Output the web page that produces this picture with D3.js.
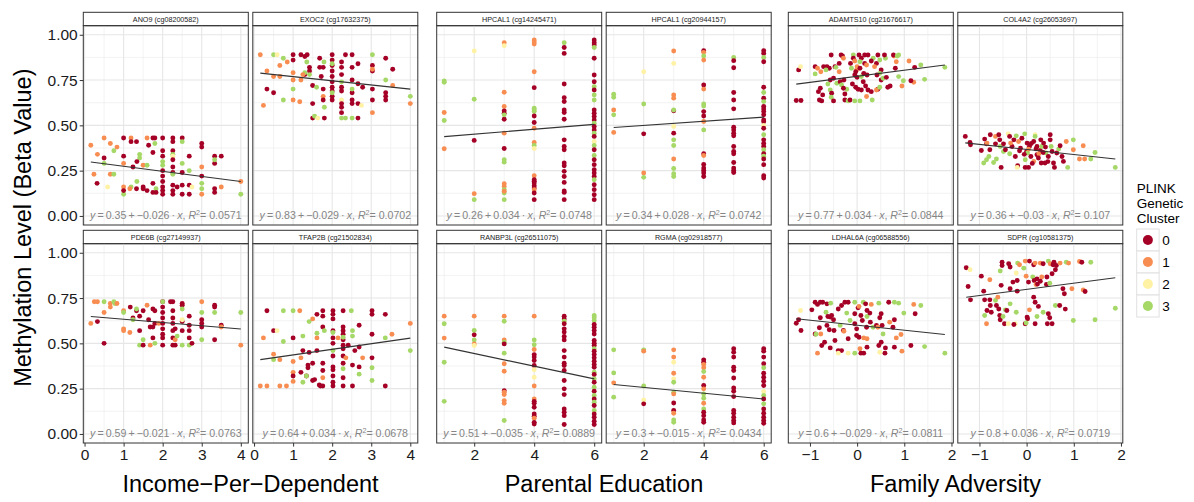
<!DOCTYPE html>
<html>
<head>
<meta charset="utf-8">
<script src="https://cdn.jsdelivr.net/npm/d3@7"></script>
<style>
  body { margin: 0; background: #fff; }
  text { font-family: "Liberation Sans", Arial, sans-serif; }
</style>
</head>
<body>
<div id="chart"></div>
<script>
// datos: cada punto [x, beta, cluster]
const ano9 = [[0.16,0.39,1],[0.24,0.23,1],[0.32,0.18,0],[0.33,0.34,1],[0.5,0.43,1],[0.5,0.32,0],[0.5,0.29,3],[0.59,0.16,2],[0.66,0.40,1],[0.66,0.23,1],[0.75,0.23,3],[0.75,0.36,3],[0.83,0.38,1],
  [1,0.43,0],[1,0.33,0],[1,0.29,1],[1,0.16,1],[1,0.12,3],[1,0.14,0],[1.19,0.43,1],[1.19,0.41,0],[1.33,0.41,0],[1.24,0.27,0],[1.19,0.16,3],[1.16,0.15,1],[1.33,0.15,0],[1.41,0.34,3],[1.41,0.32,3],[1.5,0.28,1],[1.5,0.16,0],[1.5,0.15,0],[1.34,0.30,0],[1.34,0.19,3],
  [1.6,0.43,1],[1.64,0.39,0],[1.75,0.43,0],[1.75,0.35,0],[1.75,0.18,0],[1.75,0.13,0],[1.6,0.14,0],[1.6,0.28,3],[1.8,0.40,3],[1.8,0.43,0],[1.83,0.15,3],[1.83,0.13,0],
  [2,0.43,0],[2,0.36,0],[2,0.33,0],[2,0.30,3],[2,0.28,3],[2,0.25,0],[2,0.22,0],[2,0.19,0],[2,0.16,0],[2,0.14,0],[2,0.12,0],
  [2.26,0.43,0],[2.26,0.41,0],[2.26,0.36,0],[2.26,0.34,3],[2.26,0.33,2],[2.26,0.31,0],[2.26,0.27,0],[2.26,0.24,0],[2.26,0.23,3],[2.26,0.17,0],[2.26,0.14,0],[2.26,0.12,0],
  [2.5,0.43,0],[2.5,0.41,3],[2.5,0.29,3],[2.5,0.24,0],[2.5,0.17,0],[2.5,0.12,0],[2.37,0.16,0],[2.68,0.33,0],[2.68,0.25,3],[2.68,0.17,0],[2.75,0.16,2],[2.68,0.12,0],
  [3,0.40,0],[3,0.38,0],[3,0.27,1],[3,0.22,0],[3,0.18,3],[3,0.15,3],[3,0.12,1],[3.33,0.33,0],[3.33,0.29,0],[3.33,0.31,3],[3.33,0.15,0],[3.33,0.13,0],[3.5,0.33,0],[3.5,0.16,1],[4,0.19,1],[4,0.12,3]]

const exoc2 = [[0.16,0.89,1],[0.24,0.61,1],[0.33,0.80,1],[0.33,0.70,0],[0.5,0.77,1],[0.5,0.89,3],[0.59,0.89,2],[0.5,0.68,0],[0.66,0.83,1],[0.66,0.77,1],[0.75,0.87,3],[0.75,0.64,3],[0.85,0.85,1],
  [1,0.89,0],[1,0.86,0],[1,0.79,1],[1,0.75,1],[1,0.70,3],[1,0.64,1],[1.17,0.63,1],[1.2,0.75,1],[1.2,0.89,0],[1.3,0.88,0],[1.36,0.89,0],[1.35,0.85,3],[1.3,0.78,0],[1.3,0.79,3],[1.25,0.78,1],[1.42,0.82,0],[1.42,0.80,0],[1.42,0.78,3],
  [1.5,0.72,0],[1.5,0.62,0],[1.5,0.54,0],[1.55,0.55,3],[1.63,0.54,2],[1.68,0.87,0],[1.68,0.82,0],[1.6,0.71,3],[1.72,0.77,0],[1.77,0.82,0],[1.79,0.85,3],[1.77,0.70,0],[1.77,0.66,1],[1.77,0.64,0],[1.8,0.60,3],[1.8,0.54,0],
  [2,0.89,0],[2,0.86,0],[2,0.83,0],[2,0.84,3],[2,0.80,0],[2,0.77,0],[2,0.74,0],[2,0.71,0],[2,0.69,0],[2,0.66,0],[2,0.64,0],[2,0.68,3],
  [2.24,0.85,0],[2.24,0.82,0],[2.24,0.78,0],[2.24,0.74,3],[2.24,0.71,0],[2.24,0.69,0],[2.24,0.64,2],[2.24,0.62,0],[2.24,0.60,0],[2.24,0.57,0],[2.24,0.54,3],[2.34,0.54,3],[2.34,0.89,0],
  [2.51,0.89,0],[2.51,0.82,0],[2.51,0.75,0],[2.51,0.68,0],[2.51,0.70,3],[2.51,0.62,0],[2.51,0.64,0],[2.51,0.54,3],[2.66,0.84,0],[2.66,0.73,0],[2.66,0.62,0],[2.66,0.54,0],[2.75,0.61,2],[2.78,0.71,0],
  [3.03,0.89,3],[3.03,0.83,0],[3.03,0.80,0],[3.03,0.70,0],[3.03,0.64,0],[3.03,0.57,1],[3.03,0.81,1],[3.37,0.87,0],[3.37,0.68,0],[3.37,0.66,0],[3.37,0.64,0],[3.37,0.75,3],[3.55,0.81,0],[3.55,0.72,1],[4,0.66,3],[4,0.62,1]]

const pde6b = [[0.16,0.61,1],[0.25,0.73,1],[0.33,0.73,1],[0.33,0.62,0],[0.5,0.50,0],[0.5,0.73,3],[0.5,0.67,1],[0.66,0.72,1],[0.66,0.70,1],[0.75,0.73,3],[0.78,0.72,3],[0.83,0.72,1],
  [1,0.68,1],[1,0.57,1],[1,0.58,1],[1,0.67,3],[1.16,0.56,1],[1.17,0.70,0],[1.24,0.64,0],[1.24,0.63,3],[1.33,0.68,0],[1.33,0.69,3],[1.41,0.65,0],[1.41,0.57,0],[1.41,0.49,3],[1.5,0.49,0],[1.5,0.52,3],[1.5,0.68,0],
  [1.6,0.71,1],[1.64,0.63,0],[1.68,0.59,0],[1.75,0.69,0],[1.75,0.59,0],[1.75,0.53,0],[1.68,0.49,1],[1.8,0.50,3],[1.8,0.68,0],[1.8,0.61,0],[1.9,0.61,1],
  [2,0.73,0],[2,0.73,3],[2,0.70,0],[2,0.67,0],[2,0.64,0],[2,0.61,0],[2,0.58,0],[2,0.55,0],[2,0.53,0],[2,0.49,0],
  [2.2,0.73,0],[2.26,0.73,0],[2.26,0.68,0],[2.26,0.64,0],[2.26,0.61,0],[2.26,0.57,0],[2.26,0.53,0],[2.26,0.49,0],[2.32,0.49,0],[2.32,0.58,0],[2.32,0.52,1],[2.37,0.54,3],
  [2.5,0.72,0],[2.5,0.71,0],[2.5,0.69,3],[2.5,0.62,0],[2.5,0.63,2],[2.5,0.57,0],[2.5,0.49,3],[2.68,0.65,0],[2.68,0.60,0],[2.68,0.57,0],[2.68,0.53,0],[2.68,0.49,3],[2.75,0.50,0],
  [3,0.63,0],[3,0.61,0],[3,0.59,0],[3,0.73,1],[3,0.67,3],[3,0.52,3],[3.33,0.71,0],[3.33,0.70,0],[3.33,0.67,3],[3.33,0.52,0],[3.5,0.60,0],[3.5,0.59,1],[4,0.67,3],[4,0.49,1]]

const tfap2b = [[0.16,0.265,1],[0.24,0.53,1],[0.33,0.265,1],[0.33,0.68,0],[0.5,0.44,1],[0.5,0.57,0],[0.59,0.57,2],[0.5,0.41,3],[0.66,0.265,1],[0.66,0.41,1],[0.75,0.68,3],[0.75,0.51,3],[0.83,0.265,1],
  [1,0.68,3],[1,0.53,0],[1,0.40,1],[1,0.34,1],[1,0.32,0],[1,0.29,1],[1.17,0.68,1],[1.2,0.42,1],[1.2,0.34,0],[1.25,0.54,3],[1.25,0.46,0],[1.25,0.285,3],[1.34,0.32,0],[1.34,0.32,3],[1.38,0.38,0],[1.38,0.365,0],
  [1.41,0.62,3],[1.41,0.45,0],[1.5,0.635,1],[1.5,0.39,0],[1.5,0.295,0],[1.55,0.30,0],[1.61,0.66,0],[1.61,0.46,0],[1.61,0.53,1],[1.61,0.556,3],[1.67,0.27,0],[1.7,0.265,0],
  [1.76,0.68,0],[1.76,0.65,0],[1.76,0.59,0],[1.76,0.39,0],[1.76,0.35,0],[1.76,0.31,1],[1.8,0.57,3],[1.76,0.265,0],
  [2.02,0.68,0],[2.02,0.66,0],[2.02,0.635,0],[2.02,0.57,0],[2.02,0.53,0],[2.02,0.50,0],[2.02,0.43,0],[2.02,0.37,0],[2.02,0.354,0],[2.02,0.32,0],[2.02,0.285,0],[2.02,0.265,0],[2.02,0.46,3],[2.02,0.56,3],[2.15,0.53,1],
  [2.28,0.68,0],[2.28,0.59,0],[2.28,0.57,0],[2.28,0.55,0],[2.28,0.52,0],[2.28,0.49,0],[2.28,0.47,0],[2.28,0.43,0],[2.28,0.39,0],[2.28,0.36,3],[2.28,0.31,0],[2.28,0.265,0],[2.28,0.534,3],[2.35,0.42,1],[2.41,0.49,0],[2.58,0.46,0],
  [2.49,0.68,3],[2.52,0.57,3],[2.52,0.54,3],[2.52,0.38,0],[2.52,0.265,0],[2.69,0.60,0],[2.69,0.48,0],[2.69,0.33,3],[2.69,0.37,0],[2.78,0.42,1],
  [3.02,0.68,0],[3.02,0.66,0],[3.02,0.55,0],[3.02,0.42,0],[3.02,0.365,3],[3.02,0.295,3],[3.36,0.66,0],[3.36,0.53,3],[3.36,0.265,0],[3.53,0.55,1],[4,0.61,1],[4,0.46,3]]

const hpcal1a = [[1,0.745,3],[1,0.738,3],[1,0.571,1],[1,0.527,3],[1,0.371,1],
  [2,0.91,2],[2,0.644,3],[2,0.417,0],[2,0.123,1],[2,0.09,3],
  [3,0.956,1],[3,0.94,2],[3,0.683,1],[3,0.604,1],[3,0.58,0],[3,0.567,0],[3,0.534,0],[3,0.558,3],[3,0.457,1],[3,0.372,0],[3,0.31,3],[3,0.297,3],[3,0.178,1],[3,0.163,1],[3,0.145,3],[3,0.127,3],[3,0.136,1],[3,0.09,3],
  [4,0.971,1],[4,0.96,1],[4,0.949,1],[4,0.796,1],[4,0.708,0],[4,0.594,3],[4,0.585,3],[4,0.576,3],[4,0.552,0],[4,0.516,0],[4,0.484,1],[4,0.406,1],[4,0.389,3],[4,0.372,2],[4,0.222,1],[4,0.2,0],[4,0.191,0],[4,0.182,0],[4,0.167,0],[4,0.154,0],[4,0.145,1],[4,0.127,0],[4,0.09,0],
  [5,0.956,3],[5,0.93,0],[5,0.897,0],[5,0.728,0],[5,0.653,0],[5,0.631,0],[5,0.585,0],[5,0.571,0],[5,0.534,0],[5,0.42,0],[5,0.383,0],[5,0.365,0],[5,0.292,0],[5,0.277,0],[5,0.246,0],[5,0.218,0],[5,0.185,0],[5,0.138,0],[5,0.13,0],[5,0.09,0],
  [6,0.971,0],[6,0.956,0],[6,0.943,0],[6,0.93,3],[6,0.87,0],[6,0.778,0],[6,0.741,0],[6,0.714,3],[6,0.695,0],[6,0.668,3],[6,0.64,3],[6,0.585,0],[6,0.567,0],[6,0.549,0],[6,0.53,0],[6,0.512,3],[6,0.494,0],[6,0.475,0],[6,0.457,3],[6,0.439,0],[6,0.411,2],[6,0.389,3],[6,0.365,0],[6,0.334,3],[6,0.31,0],[6,0.283,0],[6,0.255,0],[6,0.237,0],[6,0.218,0],[6,0.2,3],[6,0.172,0],[6,0.145,0],[6,0.117,0],[6,0.09,0]]

const hpcal1b = [[1,0.672,3],[1,0.655,3],[1,0.585,1],[1,0.558,3],[1,0.461,1],
  [2,0.796,2],[2,0.618,3],[2,0.453,0],[2,0.237,1],[2,0.213,3],
  [3,0.91,1],[3,0.842,2],[3,0.668,1],[3,0.65,1],[3,0.58,0],[3,0.585,3],[3,0.494,2],[3,0.457,0],[3,0.42,3],[3,0.389,3],[3,0.314,1],[3,0.262,3],[3,0.233,3],[3,0.218,3],
  [4,0.912,0],[4,0.903,1],[4,0.883,3],[4,0.86,1],[4,0.723,0],[4,0.70,1],[4,0.618,3],[4,0.607,3],[4,0.576,0],[4,0.552,0],[4,0.521,1],[4,0.475,3],[4,0.343,0],[4,0.334,1],[4,0.284,0],[4,0.264,0],[4,0.251,0],[4,0.237,0],[4,0.218,0],
  [5,0.875,3],[5,0.857,0],[5,0.818,0],[5,0.681,0],[5,0.64,0],[5,0.591,0],[5,0.49,0],[5,0.475,0],[5,0.457,0],[5,0.442,0],[5,0.383,0],[5,0.356,0],[5,0.343,0],[5,0.295,0],[5,0.264,0],[5,0.251,0],[5,0.24,0],
  [6,0.912,0],[6,0.897,0],[6,0.875,3],[6,0.851,0],[6,0.71,0],[6,0.681,3],[6,0.65,0],[6,0.631,3],[6,0.604,0],[6,0.59,0],[6,0.576,0],[6,0.558,0],[6,0.53,0],[6,0.52,0],[6,0.50,2],[6,0.484,0],[6,0.448,3],[6,0.42,0],[6,0.40,0],[6,0.383,0],[6,0.365,3],[6,0.343,0],[6,0.33,3],[6,0.314,0],[6,0.283,0],[6,0.222,0],[6,0.209,0]]

const ranbp3l = [[1,0.65,1],[1,0.608,3],[1,0.529,1],[1,0.396,3],[1,0.18,3],
  [2,0.65,1],[2,0.571,3],[2,0.547,0],[2,0.519,3],[2,0.497,1],[2,0.488,2],
  [3,0.65,1],[3,0.622,3],[3,0.519,1],[3,0.506,3],[3,0.497,0],[3,0.446,3],[3,0.387,1],[3,0.346,1],[3,0.239,0],[3,0.23,1],[3,0.217,1],[3,0.184,1],[3,0.169,1],[3,0.074,3],
  [4,0.65,1],[4,0.519,3],[4,0.492,3],[4,0.466,1],[4,0.438,0],[4,0.424,0],[4,0.405,0],[4,0.378,0],[4,0.354,2],[4,0.313,2],[4,0.265,1],[4,0.193,1],[4,0.18,0],[4,0.169,0],[4,0.147,0],[4,0.11,0],[4,0.098,0],[4,0.087,1],[4,0.064,0],[4,0.055,0],
  [5,0.65,0],[5,0.635,0],[5,0.622,3],[5,0.608,0],[5,0.58,0],[5,0.562,0],[5,0.538,0],[5,0.519,0],[5,0.46,0],[5,0.424,0],[5,0.39,0],[5,0.378,0],[5,0.35,0],[5,0.295,0],[5,0.249,0],[5,0.217,0],[5,0.138,0],[5,0.12,0],[5,0.101,0],[5,0.052,0],
  [6,0.654,3],[6,0.641,3],[6,0.626,3],[6,0.604,0],[6,0.589,0],[6,0.571,0],[6,0.552,0],[6,0.516,0],[6,0.501,0],[6,0.488,0],[6,0.47,3],[6,0.457,0],[6,0.438,0],[6,0.42,0],[6,0.401,0],[6,0.383,0],[6,0.368,0],[6,0.341,3],[6,0.328,0],[6,0.304,3],[6,0.285,0],[6,0.258,3],[6,0.236,0],[6,0.212,3],[6,0.193,0],[6,0.175,3],[6,0.157,0],[6,0.129,3],[6,0.11,0],[6,0.092,0],[6,0.07,0],[6,0.052,0]]

const rgma = [[1,0.464,3],[1,0.337,3],[1,0.282,1],[1,0.203,3],
  [2,0.464,3],[2,0.457,1],[2,0.265,3],[2,0.188,2],[2,0.166,0],
  [3,0.464,1],[3,0.424,1],[3,0.396,2],[3,0.335,1],[3,0.304,2],[3,0.285,3],[3,0.23,3],[3,0.221,1],[3,0.171,0],[3,0.129,0],[3,0.114,1],[3,0.077,3],[3,0.064,3],
  [4,0.409,0],[4,0.396,0],[4,0.383,1],[4,0.365,1],[4,0.344,3],[4,0.313,1],[4,0.267,0],[4,0.249,1],[4,0.221,3],[4,0.197,3],[4,0.169,1],[4,0.138,3],[4,0.12,0],[4,0.101,0],[4,0.077,0],[4,0.064,0],
  [5,0.47,0],[5,0.451,0],[5,0.424,0],[5,0.368,0],[5,0.35,0],[5,0.309,0],[5,0.254,0],[5,0.236,0],[5,0.206,0],[5,0.129,0],[5,0.114,0],[5,0.092,0],[5,0.074,0],[5,0.061,0],
  [6,0.47,0],[6,0.457,0],[6,0.424,0],[6,0.387,0],[6,0.365,3],[6,0.335,0],[6,0.313,0],[6,0.291,0],[6,0.267,0],[6,0.234,2],[6,0.212,3],[6,0.193,0],[6,0.166,3],[6,0.138,0],[6,0.114,0],[6,0.092,0],[6,0.074,0],[6,0.059,0]]

const adamts10 = [[-1.29,0.637,0],[-1.19,0.637,0],[-1.24,0.806,0],[-1.2,0.824,2],[-0.89,0.824,0],[-0.89,0.784,3],[-0.84,0.815,1],[-0.77,0.796,1],[-0.71,0.824,0],[-0.64,0.824,0],[-0.59,0.815,0],[-0.66,0.806,3],[-0.78,0.705,0],[-0.82,0.686,0],[-0.73,0.668,0],[-0.8,0.64,0],[-0.75,0.635,0],
  [-0.55,0.888,0],[-0.57,0.75,0],[-0.5,0.76,0],[-0.62,0.728,3],[-0.57,0.695,3],[-0.54,0.677,0],[-0.55,0.655,3],[-0.5,0.635,0],[-0.47,0.824,0],[-0.45,0.82,3],[-0.38,0.796,1],[-0.34,0.888,0],[-0.31,0.883,0],[-0.29,0.87,1],[-0.38,0.842,0],[-0.43,0.732,3],[-0.36,0.741,0],[-0.33,0.723,3],[-0.28,0.75,0],[-0.22,0.699,3],[-0.29,0.705,0],[-0.26,0.673,0],[-0.26,0.64,0],[-0.19,0.635,3],[-0.15,0.64,0],
  [-0.08,0.888,3],[-0.08,0.87,0],[-0.14,0.842,0],[-0.12,0.815,3],[-0.05,0.855,1],[-0.01,0.806,1],[-0.03,0.796,0],[0,0.824,1],[0.06,0.815,0],[-0.05,0.778,0],[0,0.765,0],[0.04,0.888,0],[0.09,0.87,0],[0.06,0.851,3],[-0.1,0.728,0],[-0.03,0.71,0],[0.09,0.769,3],[0.13,0.741,0],[0.02,0.699,0],[0.09,0.695,0],
  [0.16,0.888,0],[0.23,0.888,0],[0.16,0.842,0],[0.2,0.833,1],[0.14,0.787,0],[0.21,0.778,0],[0.18,0.717,0],[0.23,0.695,0],[0.3,0.686,0],[0.06,0.635,3],[-0.05,0.635,3],[0.2,0.659,1],[0.32,0.64,3],[0.34,0.87,3],[0.3,0.855,0],[0.41,0.842,0],[0.37,0.824,1],[0.44,0.888,0],[0.48,0.861,3],[0.6,0.87,3],[0.58,0.888,0],[0.51,0.806,0],[0.48,0.787,3],[0.42,0.778,0],[0.51,0.75,0],[0.55,0.76,3],[0.44,0.699,0],[0.41,0.695,1],[0.48,0.71,3],[0.62,0.765,0],[0.65,0.71,0],[0.7,0.717,0],
  [0.78,0.883,1],[0.77,0.888,0],[0.88,0.888,3],[0.85,0.883,3],[0.83,0.851,1],[0.81,0.815,0],[0.88,0.769,3],[0.95,0.717,1],[0.98,0.746,3],[1.1,0.855,1],[1.2,0.738,1],[1.14,0.746,0],[1.22,0.82,0],[1.35,0.833,3],[1.43,0.754,3],[1.86,0.82,3]]

const col4a2 = [[-1.3,0.439,0],[-1.2,0.406,0],[-1.19,0.393,0],[-0.96,0.361,0],[-0.89,0.424,0],[-0.85,0.398,0],[-0.84,0.402,1],[-0.77,0.448,0],[-0.78,0.365,0],[-0.91,0.292,3],[-0.85,0.31,3],[-0.8,0.328,3],[-0.64,0.314,3],[-0.7,0.295,3],[-0.66,0.439,1],[-0.59,0.448,0],[-0.57,0.42,0],[-0.66,0.398,0],[-0.56,0.383,3],[-0.54,0.268,0],[-0.49,0.398,0],[-0.49,0.356,3],[-0.45,0.365,0],
  [-0.39,0.453,2],[-0.36,0.439,0],[-0.31,0.383,0],[-0.34,0.402,1],[-0.36,0.343,3],[-0.27,0.42,0],[-0.24,0.328,0],[-0.22,0.442,3],[-0.17,0.411,1],[-0.19,0.277,0],[-0.2,0.268,2],[-0.13,0.374,0],[-0.1,0.429,0],[-0.04,0.453,3],[-0.03,0.268,0],[0.04,0.268,0],[0.01,0.402,0],[0,0.356,0],[0.02,0.347,3],[0.06,0.383,0],[0.04,0.369,1],[0.09,0.328,0],[-0.03,0.31,3],
  [0.15,0.301,1],[0.18,0.448,2],[0.18,0.439,3],[0.15,0.411,0],[0.22,0.383,0],[0.22,0.338,0],[0.29,0.361,0],[0.26,0.343,1],[0.31,0.292,0],[0.32,0.383,3],[0.36,0.402,0],[0.39,0.292,0],[0.41,0.347,3],[0.46,0.328,0],[0.5,0.448,0],[0.5,0.42,0],[0.52,0.383,3],[0.54,0.356,0],[0.57,0.292,0],[0.59,0.268,0],
  [0.1,0.4,0],[0.2,0.37,0],[0.25,0.32,0],[0.35,0.35,0],[0.45,0.3,0],[-0.05,0.34,0],[0.12,0.29,0],[0.3,0.42,0],[-0.15,0.36,0],[0.4,0.38,0],
  [0.64,0.347,0],[0.68,0.369,3],[0.71,0.387,0],[0.75,0.328,0],[0.78,0.301,0],[0.84,0.411,1],[0.87,0.268,3],[0.99,0.42,3],[0.99,0.365,1],[1.12,0.314,1],[1.2,0.387,1],[1.23,0.314,1],[1.36,0.314,3],[1.45,0.35,3],[1.88,0.268,3]]

const ldhal6a = [[-1.29,0.611,0],[-1.24,0.63,0],[-1.2,0.681,2],[-1.19,0.571,0],[-0.96,0.685,0],[-0.89,0.727,0],[-0.84,0.715,0],[-0.78,0.727,0],[-0.73,0.727,0],[-0.78,0.641,0],[-0.8,0.586,0],[-0.89,0.552,0],[-0.87,0.55,3],[-0.84,0.446,1],[-0.77,0.552,1],
  [-0.64,0.718,0],[-0.66,0.672,3],[-0.62,0.648,0],[-0.57,0.645,0],[-0.64,0.599,0],[-0.59,0.575,0],[-0.75,0.488,0],[-0.69,0.506,0],[-0.57,0.475,0],[-0.56,0.722,3],[-0.54,0.654,0],[-0.5,0.63,0],[-0.49,0.571,0],[-0.47,0.516,0],[-0.4,0.46,0],[-0.33,0.46,0],[-0.4,0.446,2],[-0.4,0.69,0],[-0.36,0.599,3],[-0.33,0.709,0],[-0.29,0.571,0],[-0.28,0.567,1],[-0.26,0.727,0],[-0.22,0.667,3],[-0.15,0.626,3],[-0.19,0.727,0],[-0.19,0.525,0],[-0.19,0.446,2],
  [-0.05,0.727,3],[-0.05,0.446,3],[-0.05,0.663,0],[-0.05,0.608,0],[-0.01,0.58,0],[-0.01,0.543,0],[0.04,0.534,0],[0.06,0.47,1],[0.08,0.446,0],[0.14,0.446,0],[0.02,0.696,0],[0.04,0.704,1],[0.08,0.654,0],[0.13,0.727,3],[0.11,0.626,0],[0.14,0.53,1],[0.21,0.525,1],[0.18,0.718,0],[0.21,0.681,0],[0.21,0.648,3],[0.2,0.589,0],[0.21,0.479,0],[0.27,0.667,0],[0.28,0.617,0],[0.3,0.715,1],[0.34,0.589,3],
  [0.41,0.599,0],[0.46,0.722,3],[0.48,0.641,0],[0.44,0.589,1],[0.46,0.488,0],[0.48,0.451,2],[0.51,0.663,0],[0.53,0.599,0],[0.55,0.552,3],[0.51,0.506,0],[0.6,0.475,0],[0.59,0.446,0],[0.67,0.727,0],[0.69,0.617,1],[0.76,0.589,0],[0.79,0.727,3],[0.79,0.63,0],[0.79,0.479,0],[0.83,0.53,1],[0.88,0.722,3],[0.93,0.549,1],[0.95,0.457,1],[0.99,0.667,3],[1.14,0.488,0],[1.2,0.715,1],[1.23,0.663,0],[1.35,0.709,3],[1.43,0.482,3],[1.86,0.446,3]]

const sdpr = [[-1.28,0.917,0],[-1.2,0.906,2],[-1.24,0.814,0],[-1.19,0.74,0],[-0.96,0.871,0],[-0.78,0.851,1],[-0.89,0.74,0],[-0.78,0.74,0],[-0.91,0.788,0],[-0.77,0.709,0],[-0.84,0.681,0],[-0.89,0.654,3],[-0.85,0.608,1],[-0.75,0.672,0],[-0.66,0.737,3],[-0.64,0.709,0],[-0.61,0.755,1],[-0.59,0.69,0],[-0.57,0.654,0],[-0.56,0.63,0],[-0.56,0.899,3],[-0.52,0.948,0],[-0.52,0.93,0],[-0.54,0.82,0],
  [-0.38,0.939,0],[-0.35,0.921,0],[-0.45,0.685,3],[-0.42,0.681,0],[-0.5,0.648,3],[-0.47,0.608,0],[-0.29,0.838,0],[-0.35,0.801,0],[-0.2,0.847,0],[-0.2,0.788,0],[-0.35,0.718,3],[-0.22,0.672,3],[-0.22,0.888,2],[-0.39,0.608,2],[-0.24,0.608,2],[-0.27,0.604,0],[-0.19,0.943,3],[-0.15,0.934,1],[-0.06,0.915,3],[-0.03,0.954,1],[-0.01,0.871,1],
  [0.04,0.838,0],[0.06,0.685,1],[0.01,0.645,0],[0.02,0.636,0],[-0.03,0.608,0],[-0.01,0.612,3],[0.06,0.954,0],[0.15,0.934,0],[0.18,0.943,1],[0.13,0.866,3],[0.16,0.847,0],[0.22,0.856,0],[0.2,0.825,1],[0.23,0.827,0],[0.15,0.755,0],[0.18,0.727,0],[0.22,0.648,3],[0.18,0.608,0],[0.29,0.943,1],[0.35,0.939,0],[0.32,0.866,1],[0.29,0.843,0],[0.25,0.704,0],[0.35,0.672,3],
  [0.43,0.866,0],[0.42,0.825,0],[0.46,0.954,3],[0.5,0.939,1],[0.56,0.934,0],[0.54,0.884,0],[0.49,0.832,3],[0.46,0.663,0],[0.49,0.641,0],[0.44,0.608,0],[0.54,0.608,0],[0.58,0.948,0],[0.63,0.93,0],[0.61,0.906,0],[0.61,0.709,3],[0.7,0.709,0],[0.71,0.943,1],[0.77,0.801,0],[0.8,0.774,0],[0.82,0.689,0],[0.84,0.948,3],[0.89,0.943,1],[0.96,0.801,1],[0.99,0.626,3],[1.12,0.952,1],[1.17,0.948,0],[1.2,0.795,1],[1.24,0.786,0],[1.36,0.948,3],[1.45,0.63,3],[1.88,0.694,3]]

// paneles (orden: fila por fila dentro de cada grupo)
const panelTitles = ["ANO9 (cg08200582)", "EXOC2 (cg17632375)", "PDE6B (cg27149937)", "TFAP2B (cg21502834)",
  "HPCAL1 (cg14245471)", "HPCAL1 (cg20944157)", "RANBP3L (cg26511075)", "RGMA (cg02918577)",
  "ADAMTS10 (cg21676617)", "COL4A2 (cg26053697)", "LDHAL6A (cg06588556)", "SDPR (cg10581375)"]
const panelData = [ano9, exoc2, pde6b, tfap2b, hpcal1a, hpcal1b, ranbp3l, rgma, adamts10, col4a2, ldhal6a, sdpr]
// recta ajustada
const fitIntercept = [0.302, 0.792, 0.651, 0.405, 0.424, 0.477, 0.514, 0.289, 0.771, 0.367, 0.600, 0.798]
const fitSlope = [-0.028, -0.023, -0.018, 0.031, 0.0136, 0.0114, -0.035, -0.016, 0.0335, -0.028, -0.0275, 0.034]
// etiquetas de la ecuación
const eqIntercept = ["0.35", "0.83", "0.59", "0.64", "0.26", "0.34", "0.51", "0.3", "0.77", "0.36", "0.6", "0.8"]
const eqSlope = ["\u22120.026", "\u22120.029", "\u22120.021", "0.034", "0.034", "0.028", "\u22120.035", "\u22120.015", "0.034", "\u22120.03", "\u22120.029", "0.036"]
const eqR2 = ["0.0571", "0.0702", "0.0763", "0.0678", "0.0748", "0.0742", "0.0889", "0.0434", "0.0844", "0.107", "0.0811", "0.0719"]

const groupTitles = ["Income\u2212Per\u2212Dependent", "Parental Education", "Family Adversity"]
const groupTicks = [[0, 1, 2, 3, 4], [2, 4, 6], [-1, 0, 1, 2]]
const groupMinor = [[0.5, 1.5, 2.5, 3.5], [1, 3, 5], [-0.5, 0.5, 1.5]]
const yTicks = [0, 0.25, 0.5, 0.75, 1]
const yMinor = [0.125, 0.375, 0.625, 0.875]
const clusters = ["0", "1", "2", "3"]
const clusterColors = ["#a50026", "#f88d52", "#fff2a4", "#a5d867"]

// constantes de maquetación
const width = 1194
const height = 502
const groupLeft = [83.3, 436.7, 788.3]
const panelW = 165
const panelStep = 169.5
const rowTop = [12.3, 230.3]
const stripH = 13.4
const panelH = 199.3
const tickLen = 3.6
const thin = "\u2009"

const svg = d3.select("#chart").append("svg").attr("width", width).attr("height", height)
const color = d3.scaleOrdinal().domain(clusters).range(clusterColors)

// escalas x por grupo (rango de datos + 5%)
const xScales = groupTitles.map((t, g) => {
  const all = panelData.slice(g * 4, g * 4 + 4).flat()
  const ext = d3.extent(all, d => d[0])
  const pad = (ext[1] - ext[0]) * 0.05
  return d3.scaleLinear().domain([ext[0] - pad, ext[1] + pad]).range([0, panelW])
})
const y = d3.scaleLinear().domain([-0.05, 1.05]).range([panelH, 0])

panelData.forEach((pts, i) => {
  const g = Math.floor(i / 4)
  const col = i % 2
  const row = Math.floor((i % 4) / 2)
  const x = xScales[g]
  const left = groupLeft[g] + col * panelStep
  const top = rowTop[row]

  // strip
  const strip = svg.append("g").attr("transform", `translate(${left}, ${top})`)
  strip.append("rect").attr("width", panelW).attr("height", stripH)
    .attr("fill", "#fff").attr("stroke", "#333").attr("stroke-width", 1)
  strip.append("text").attr("x", panelW / 2).attr("y", stripH / 2 + 2.6)
    .attr("text-anchor", "middle").attr("font-size", 7.2).attr("fill", "#1a1a1a")
    .text(panelTitles[i])

  const panel = svg.append("g").attr("transform", `translate(${left}, ${top + stripH})`)

  // grid
  panel.append("g").selectAll("line").data(yMinor).join("line")
    .attr("x1", 0).attr("x2", panelW).attr("y1", d => y(d)).attr("y2", d => y(d))
    .attr("stroke", "#ebebeb").attr("stroke-width", 0.6)
  panel.append("g").selectAll("line").data(groupMinor[g]).join("line")
    .attr("y1", 0).attr("y2", panelH).attr("x1", d => x(d)).attr("x2", d => x(d))
    .attr("stroke", "#ebebeb").attr("stroke-width", 0.6)
  panel.append("g").selectAll("line").data(yTicks).join("line")
    .attr("x1", 0).attr("x2", panelW).attr("y1", d => y(d)).attr("y2", d => y(d))
    .attr("stroke", "#e6e6e6").attr("stroke-width", 1.1)
  panel.append("g").selectAll("line").data(groupTicks[g]).join("line")
    .attr("y1", 0).attr("y2", panelH).attr("x1", d => x(d)).attr("x2", d => x(d))
    .attr("stroke", "#e6e6e6").attr("stroke-width", 1.1)

  // puntos
  panel.append("g").selectAll("circle").data(pts).join("circle")
    .attr("cx", d => x(d[0])).attr("cy", d => y(d[1])).attr("r", 2.45)
    .attr("fill", d => color(String(d[2])))

  // recta
  const ext = d3.extent(pts, d => d[0])
  panel.append("line")
    .attr("x1", x(ext[0])).attr("y1", y(fitIntercept[i] + fitSlope[i] * ext[0]))
    .attr("x2", x(ext[1])).attr("y2", y(fitIntercept[i] + fitSlope[i] * ext[1]))
    .attr("stroke", "#333").attr("stroke-width", 1.1)

  // ecuación
  const eq = panel.append("text").attr("x", panelW / 2).attr("y", panelH - 5.5)
    .attr("text-anchor", "middle").attr("font-size", 10.6).attr("fill", "#858585")
  eq.append("tspan").attr("font-style", "italic").text("y")
  eq.append("tspan").text(`${thin}=${thin}${eqIntercept[i]}${thin}+${thin}${eqSlope[i]}${thin}\u00b7${thin}`)
  eq.append("tspan").attr("font-style", "italic").text("x")
  eq.append("tspan").text(", ")
  eq.append("tspan").attr("font-style", "italic").text("R")
  eq.append("tspan").attr("font-size", 7.2).attr("dy", -4.5).text("2")
  eq.append("tspan").attr("dy", 4.5).text("= " + eqR2[i])

  // borde
  panel.append("rect").attr("width", panelW).attr("height", panelH)
    .attr("fill", "none").attr("stroke", "#333").attr("stroke-width", 1)

  // ejes
  if (row === 1) {
    const xAxis = d3.axisBottom(x).tickValues(groupTicks[g]).tickSize(tickLen).tickPadding(2)
      .tickFormat(d => d < 0 ? "\u2212" + Math.abs(d) : d)
    const ax = panel.append("g").attr("transform", `translate(0, ${panelH})`).call(xAxis)
    ax.select(".domain").remove()
    ax.selectAll("line").attr("stroke", "#333")
    ax.selectAll("text").attr("font-size", 15.5).attr("fill", "#1a1a1a")
      .attr("font-family", "Liberation Sans, Arial, sans-serif")
  }
  if (g === 0 && col === 0) {
    const yAxis = d3.axisLeft(y).tickValues(yTicks).tickSize(tickLen).tickPadding(2)
      .tickFormat(d3.format(".2f"))
    const ay = panel.append("g").call(yAxis)
    ay.select(".domain").remove()
    ay.selectAll("line").attr("stroke", "#333")
    ay.selectAll("text").attr("font-size", 15.5).attr("fill", "#1a1a1a")
      .attr("font-family", "Liberation Sans, Arial, sans-serif")
  }
})

// títulos de ejes
groupTitles.forEach((t, g) => {
  svg.append("text")
    .attr("x", groupLeft[g] + (panelStep + panelW) / 2).attr("y", 491.5)
    .attr("text-anchor", "middle").attr("font-size", 23.5).attr("fill", "#000")
    .text(t)
})
svg.append("text")
  .attr("transform", `translate(31, ${(rowTop[0] + rowTop[1] + stripH + panelH) / 2}) rotate(-90)`)
  .attr("text-anchor", "middle").attr("font-size", 23.5).attr("fill", "#000")
  .text("Methylation Level (Beta Value)")

// leyenda
const legend = svg.append("g").attr("transform", "translate(1136.7, 0)")
legend.selectAll(".lt").data(["PLINK", "Genetic", "Cluster"]).join("text")
  .attr("x", 0).attr("y", (d, i) => 192.8 + i * 15.2)
  .attr("font-size", 13.5).attr("fill", "#000").text(d => d)
const keys = legend.selectAll(".key").data(clusters).join("g")
  .attr("transform", (d, i) => `translate(0, ${229 + i * 22})`)
keys.append("rect").attr("width", 22.4).attr("height", 22)
  .attr("fill", "#fff").attr("stroke", "#e0e0e0").attr("stroke-width", 1)
keys.append("circle").attr("cx", 11.2).attr("cy", 11).attr("r", 5).attr("fill", d => color(d))
keys.append("text").attr("x", 25.5).attr("y", 15.8).attr("font-size", 13.5).attr("fill", "#000").text(d => d)
</script>
</body>
</html>
